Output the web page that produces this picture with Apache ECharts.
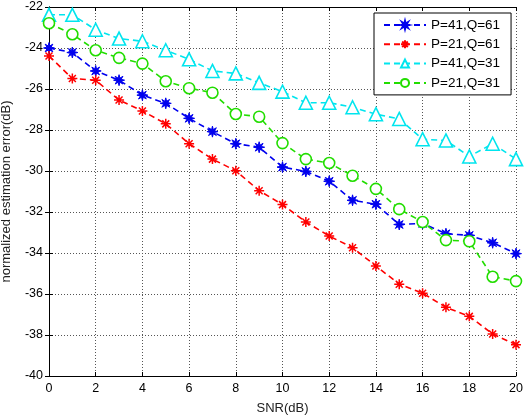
<!DOCTYPE html>
<html>
<head>
<meta charset="utf-8">
<script src="https://cdn.jsdelivr.net/npm/echarts@6/dist/echarts.min.js"></script>
<style>
  html, body { margin: 0; padding: 0; background: #fff; }
  #chart { width: 524px; height: 416px; }
</style>
</head>
<body>
<div id="chart"></div>
<script>
// SNR 轴
var snr = [0, 1, 2, 3, 4, 5, 6, 7, 8, 9, 10, 11, 12, 13, 14, 15, 16, 17, 18, 19, 20];
var seriesNames = ['P=41,Q=61', 'P=21,Q=61', 'P=41,Q=31', 'P=21,Q=31'];
var p41q61 = [-24.0, -24.22, -25.12, -25.57, -26.3, -26.7, -27.43, -28.08, -28.67, -28.84, -29.81,
  -30.02, -30.5, -31.43, -31.62, -32.61, -32.56, -33.06, -33.14, -33.5, -34.03];
var p21q61 = [-24.39, -25.49, -25.57, -26.54, -27.07, -27.7, -28.67, -29.42, -29.99, -30.96, -31.64,
  -32.49, -33.17, -33.74, -34.63, -35.52, -35.96, -36.65, -37.09, -37.95, -38.47];
var p41q31 = [-22.38, -22.38, -23.11, -23.54, -23.67, -24.11, -24.55, -25.12, -25.24, -25.7, -26.13,
  -26.67, -26.67, -26.89, -27.23, -27.46, -28.45, -28.51, -29.29, -28.67, -29.42];
var p21q31 = [-22.79, -23.33, -24.11, -24.48, -24.76, -25.62, -25.96, -26.18, -27.22, -27.35, -28.64,
  -29.42, -29.61, -30.23, -30.87, -31.86, -32.49, -33.37, -33.43, -35.16, -35.37];

// 8角星 (蓝色标记)
function starPath() {
  var pts = [];
  for (var i = 0; i < 16; i++) {
    var r = i % 2 === 0 ? 10 : 4;
    var a = Math.PI * i / 8;
    pts.push((r * Math.cos(a)).toFixed(2) + ',' + (r * Math.sin(a)).toFixed(2));
  }
  return 'path://M' + pts.join('L') + 'Z';
}
var asterisk = 'path://M0,-10L0,10M-10,0L10,0M-7,-7L7,7M-7,7L7,-7';

var font = 'Liberation Sans, Arial, sans-serif';
var myChart = echarts.init(document.getElementById('chart'));

function mkSeries(name, data, color, symbol, size, fill, bw) {
  return {
    name: name,
    type: 'line',
    data: snr.map(function (x, i) { return [x, data[i]]; }),
    symbol: symbol,
    symbolSize: size,
    showSymbol: true,
    lineStyle: { color: color, width: 1.6, type: [6, 4] },
    itemStyle: { color: fill, borderColor: color, borderWidth: bw },
    emphasis: { disabled: true },
    animation: false
  };
}

var option = {
  backgroundColor: '#fff',
  grid: { left: 49, right: 8, top: 7, bottom: 40, containLabel: false, outerBoundsMode: 'none' },
  legend: {
    data: seriesNames,
    left: 374,
    top: 13,
    orient: 'vertical',
    itemWidth: 42,
    itemHeight: 10,
    itemGap: 5.3,
    padding: [5, 11, 5, 9],
    backgroundColor: '#fff',
    borderColor: '#000',
    borderWidth: 1,
    textStyle: { fontFamily: font, fontSize: 13.5, color: '#000' }
  },
  xAxis: [{
    type: 'value',
    min: 0, max: 20, interval: 2,
    name: 'SNR(dB)',
    nameLocation: 'middle',
    nameGap: 26,
    nameTextStyle: { fontFamily: font, fontSize: 13, color: '#222' },
    axisLine: { show: true, lineStyle: { color: '#000', width: 1 } },
    axisTick: { inside: true, length: 4, lineStyle: { color: '#000' } },
    axisLabel: { fontFamily: font, fontSize: 12.5, color: '#000', margin: 6 },
    splitLine: { show: true, lineStyle: { color: '#555', type: [1, 2], width: 1 } }
  }, {
    type: 'value', position: 'top',
    min: 0, max: 20, interval: 2,
    axisLine: { show: true, lineStyle: { color: '#000' } },
    axisTick: { inside: true, length: 4, lineStyle: { color: '#000' } },
    axisLabel: { show: false },
    splitLine: { show: false }
  }],
  yAxis: [{
    type: 'value',
    min: -40, max: -22, interval: 2,
    name: 'normalized estimation error(dB)',
    nameLocation: 'middle',
    nameGap: 36,
    nameTextStyle: { fontFamily: font, fontSize: 13, color: '#222' },
    axisLine: { show: true, lineStyle: { color: '#000', width: 1 } },
    axisTick: { inside: true, length: 4, lineStyle: { color: '#000' } },
    axisLabel: { fontFamily: font, fontSize: 12.5, color: '#000', margin: 6 },
    splitLine: { show: true, lineStyle: { color: '#555', type: [1, 2], width: 1 } }
  }, {
    type: 'value', position: 'right',
    min: -40, max: -22, interval: 2,
    axisLine: { show: true, lineStyle: { color: '#000' } },
    axisTick: { inside: true, length: 4, lineStyle: { color: '#000' } },
    axisLabel: { show: false },
    splitLine: { show: false }
  }],
  series: [
    mkSeries(seriesNames[0], p41q61, '#0000ee', starPath(), 11, '#0000ee', 1),
    mkSeries(seriesNames[1], p21q61, '#ff0000', asterisk, 10, '#ff0000', 1.5),
    mkSeries(seriesNames[2], p41q31, '#00e5ee', 'triangle', 13, '#fff', 1.6),
    mkSeries(seriesNames[3], p21q31, '#22dd00', 'circle', 11, '#fff', 1.6)
  ]
};
myChart.setOption(option);
</script>
</body>
</html>
